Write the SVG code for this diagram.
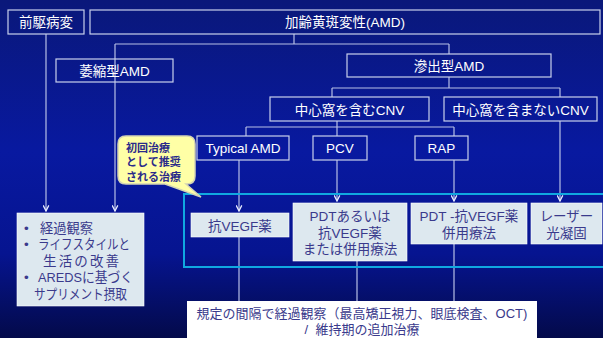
<svg xmlns="http://www.w3.org/2000/svg" width="603" height="338" viewBox="0 0 603 338">
<defs>
<linearGradient id="bg" x1="0" y1="0" x2="0" y2="1">
<stop offset="0" stop-color="#0a187a"/>
<stop offset="0.45" stop-color="#0819a0"/>
<stop offset="0.75" stop-color="#061490"/>
<stop offset="1" stop-color="#030a4a"/>
</linearGradient>
<marker id="arr" viewBox="0 0 10 10" refX="9" refY="5" markerWidth="7" markerHeight="7" markerUnits="userSpaceOnUse" orient="auto">
<path d="M1,1 L9,5 L1,9" fill="none" stroke="#e8ecff" stroke-width="1.8"/>
</marker>
<style>
text{font-family:"Liberation Sans","Noto Sans CJK JP",sans-serif;}
.ob{fill:none;stroke:#c8d0ec;stroke-width:1.2;}
.wt{fill:#ffffff;font-size:13.5px;text-anchor:middle;}
.lb{fill:#dde8ef;stroke:#ffffff;stroke-width:0.6;}
.lt{fill:#3a3a8c;font-size:13.5px;text-anchor:middle;}
.bl{fill:#3a3a8c;font-size:13.5px;}
.cn{fill:none;stroke:#b8c0e6;stroke-width:1.2;}
.ct{fill:#2a2a8a;font-size:11px;font-weight:bold;}
.bt{fill:#3a3a8c;font-size:13px;text-anchor:middle;white-space:pre;}
</style>
</defs>
<rect x="0" y="0" width="603" height="338" fill="url(#bg)"/>

<g id="connectors">
<polyline class="cn" points="294,34 294,44"/>
<polyline class="cn" points="115,44 449,44"/>
<polyline class="cn" points="115,44 115,211" marker-end="url(#arr)"/>
<polyline class="cn" points="449,44 449,54"/>
<polyline class="cn" points="46,34 46,211" marker-end="url(#arr)"/>
<polyline class="cn" points="449,77 449,88"/>
<polyline class="cn" points="332,88 560,88"/>
<polyline class="cn" points="332,88 332,97"/>
<polyline class="cn" points="560,88 560,97"/>
<polyline class="cn" points="337,121 337,136"/>
<polyline class="cn" points="246,127 454,127"/>
<polyline class="cn" points="246,127 246,136"/>
<polyline class="cn" points="454,127 454,136"/>
<polyline class="cn" points="239,160 239,211" marker-end="url(#arr)"/>
<polyline class="cn" points="337,160 337,201" marker-end="url(#arr)"/>
<polyline class="cn" points="454,160 454,201" marker-end="url(#arr)"/>
<polyline class="cn" points="560,121 560,201" marker-end="url(#arr)"/>
<polyline class="cn" points="239,237 239,301"/>
<polyline class="cn" points="357,261 357,301"/>
<polyline class="cn" points="454,244 454,301"/>
</g>

<rect id="group-frame" x="184" y="194" width="425" height="73" fill="none" stroke="#10a8e0" stroke-width="2"/>

<g id="node-zenku">
<rect class="ob" x="8" y="10" width="76" height="24"/>
<text class="wt" x="46" y="27">前駆病変</text>
</g>
<g id="node-amd">
<rect class="ob" x="90" y="10" width="510" height="24"/>
<text class="wt" x="345" y="27">加齢黄斑変性(AMD)</text>
</g>
<g id="node-ishuku">
<rect class="ob" x="56" y="59" width="117" height="23"/>
<text class="wt" x="114.5" y="76">萎縮型AMD</text>
</g>
<g id="node-shinshutsu">
<rect class="ob" x="347" y="54" width="204" height="23"/>
<text class="wt" x="449" y="71">滲出型AMD</text>
</g>
<g id="node-fukumu">
<rect class="ob" x="270" y="97" width="159" height="24"/>
<text class="wt" x="349.5" y="114.5">中心窩を含むCNV</text>
</g>
<g id="node-fukumanai">
<rect class="ob" x="444" y="97" width="153" height="24"/>
<text class="wt" x="520.5" y="114.5">中心窩を含まないCNV</text>
</g>
<g id="node-typical">
<rect class="ob" x="197" y="136" width="92" height="24"/>
<text class="wt" x="243" y="153">Typical AMD</text>
</g>
<g id="node-pcv">
<rect class="ob" x="313" y="136" width="54" height="24"/>
<text class="wt" x="340" y="153">PCV</text>
</g>
<g id="node-rap">
<rect class="ob" x="415" y="136" width="53" height="24"/>
<text class="wt" x="441.5" y="153">RAP</text>
</g>

<g id="node-callout">
<path d="M126,136 H187 Q195,136 195,144 V176 Q195,184 187,184 H186 L201,197 L165,184 H126 Q118,184 118,176 V144 Q118,136 126,136 Z" fill="#ffffa6" stroke="#d4d4b4" stroke-width="1.5"/>
<text class="ct" x="126" y="151.5">初回治療</text>
<text class="ct" x="126" y="166">として推奨</text>
<text class="ct" x="126" y="180.5">される治療</text>
</g>

<g id="node-keika">
<rect class="lb" x="17" y="213" width="127" height="93"/>
<text class="bl" x="24" y="233">•</text>
<text class="bl" x="40" y="233" textLength="53" lengthAdjust="spacingAndGlyphs">経過観察</text>
<text class="bl" x="24" y="249">•</text>
<text class="bl" x="38" y="249" textLength="92" lengthAdjust="spacingAndGlyphs">ライフスタイルと</text>
<text class="bl" x="43" y="265.5" textLength="76" lengthAdjust="spacing">生活の改善</text>
<text class="bl" x="24" y="282">•</text>
<text class="bl" x="38" y="282" textLength="95" lengthAdjust="spacingAndGlyphs">AREDSに基づく</text>
<text class="bl" x="34" y="299" textLength="93" lengthAdjust="spacingAndGlyphs">サプリメント摂取</text>
</g>
<g id="node-antivegf">
<rect class="lb" x="191" y="213" width="98" height="24"/>
<text class="lt" x="240" y="231">抗VEGF薬</text>
</g>
<g id="node-pdt-or">
<rect class="lb" x="293" y="203" width="114" height="58"/>
<text class="lt" x="350" y="221">PDTあるいは</text>
<text class="lt" x="350" y="237.5">抗VEGF薬</text>
<text class="lt" x="350" y="254">または併用療法</text>
</g>
<g id="node-pdt-combo">
<rect class="lb" x="411" y="203" width="116" height="41"/>
<text class="lt" x="469" y="221">PDT -抗VEGF薬</text>
<text class="lt" x="469" y="237.5">併用療法</text>
</g>
<g id="node-laser">
<rect class="lb" x="531" y="203" width="71" height="41"/>
<text class="lt" x="566.5" y="221">レーザー</text>
<text class="lt" x="566.5" y="237.5">光凝固</text>
</g>
<g id="node-followup">
<rect x="187" y="301" width="350" height="45" fill="#ffffff"/>
<text class="bt" x="362" y="318">規定の間隔で経過観察（最高矯正視力、眼底検査、OCT)</text>
<text class="bt" x="362" y="334" xml:space="preserve">/  維持期の追加治療</text>
</g>
</svg>
